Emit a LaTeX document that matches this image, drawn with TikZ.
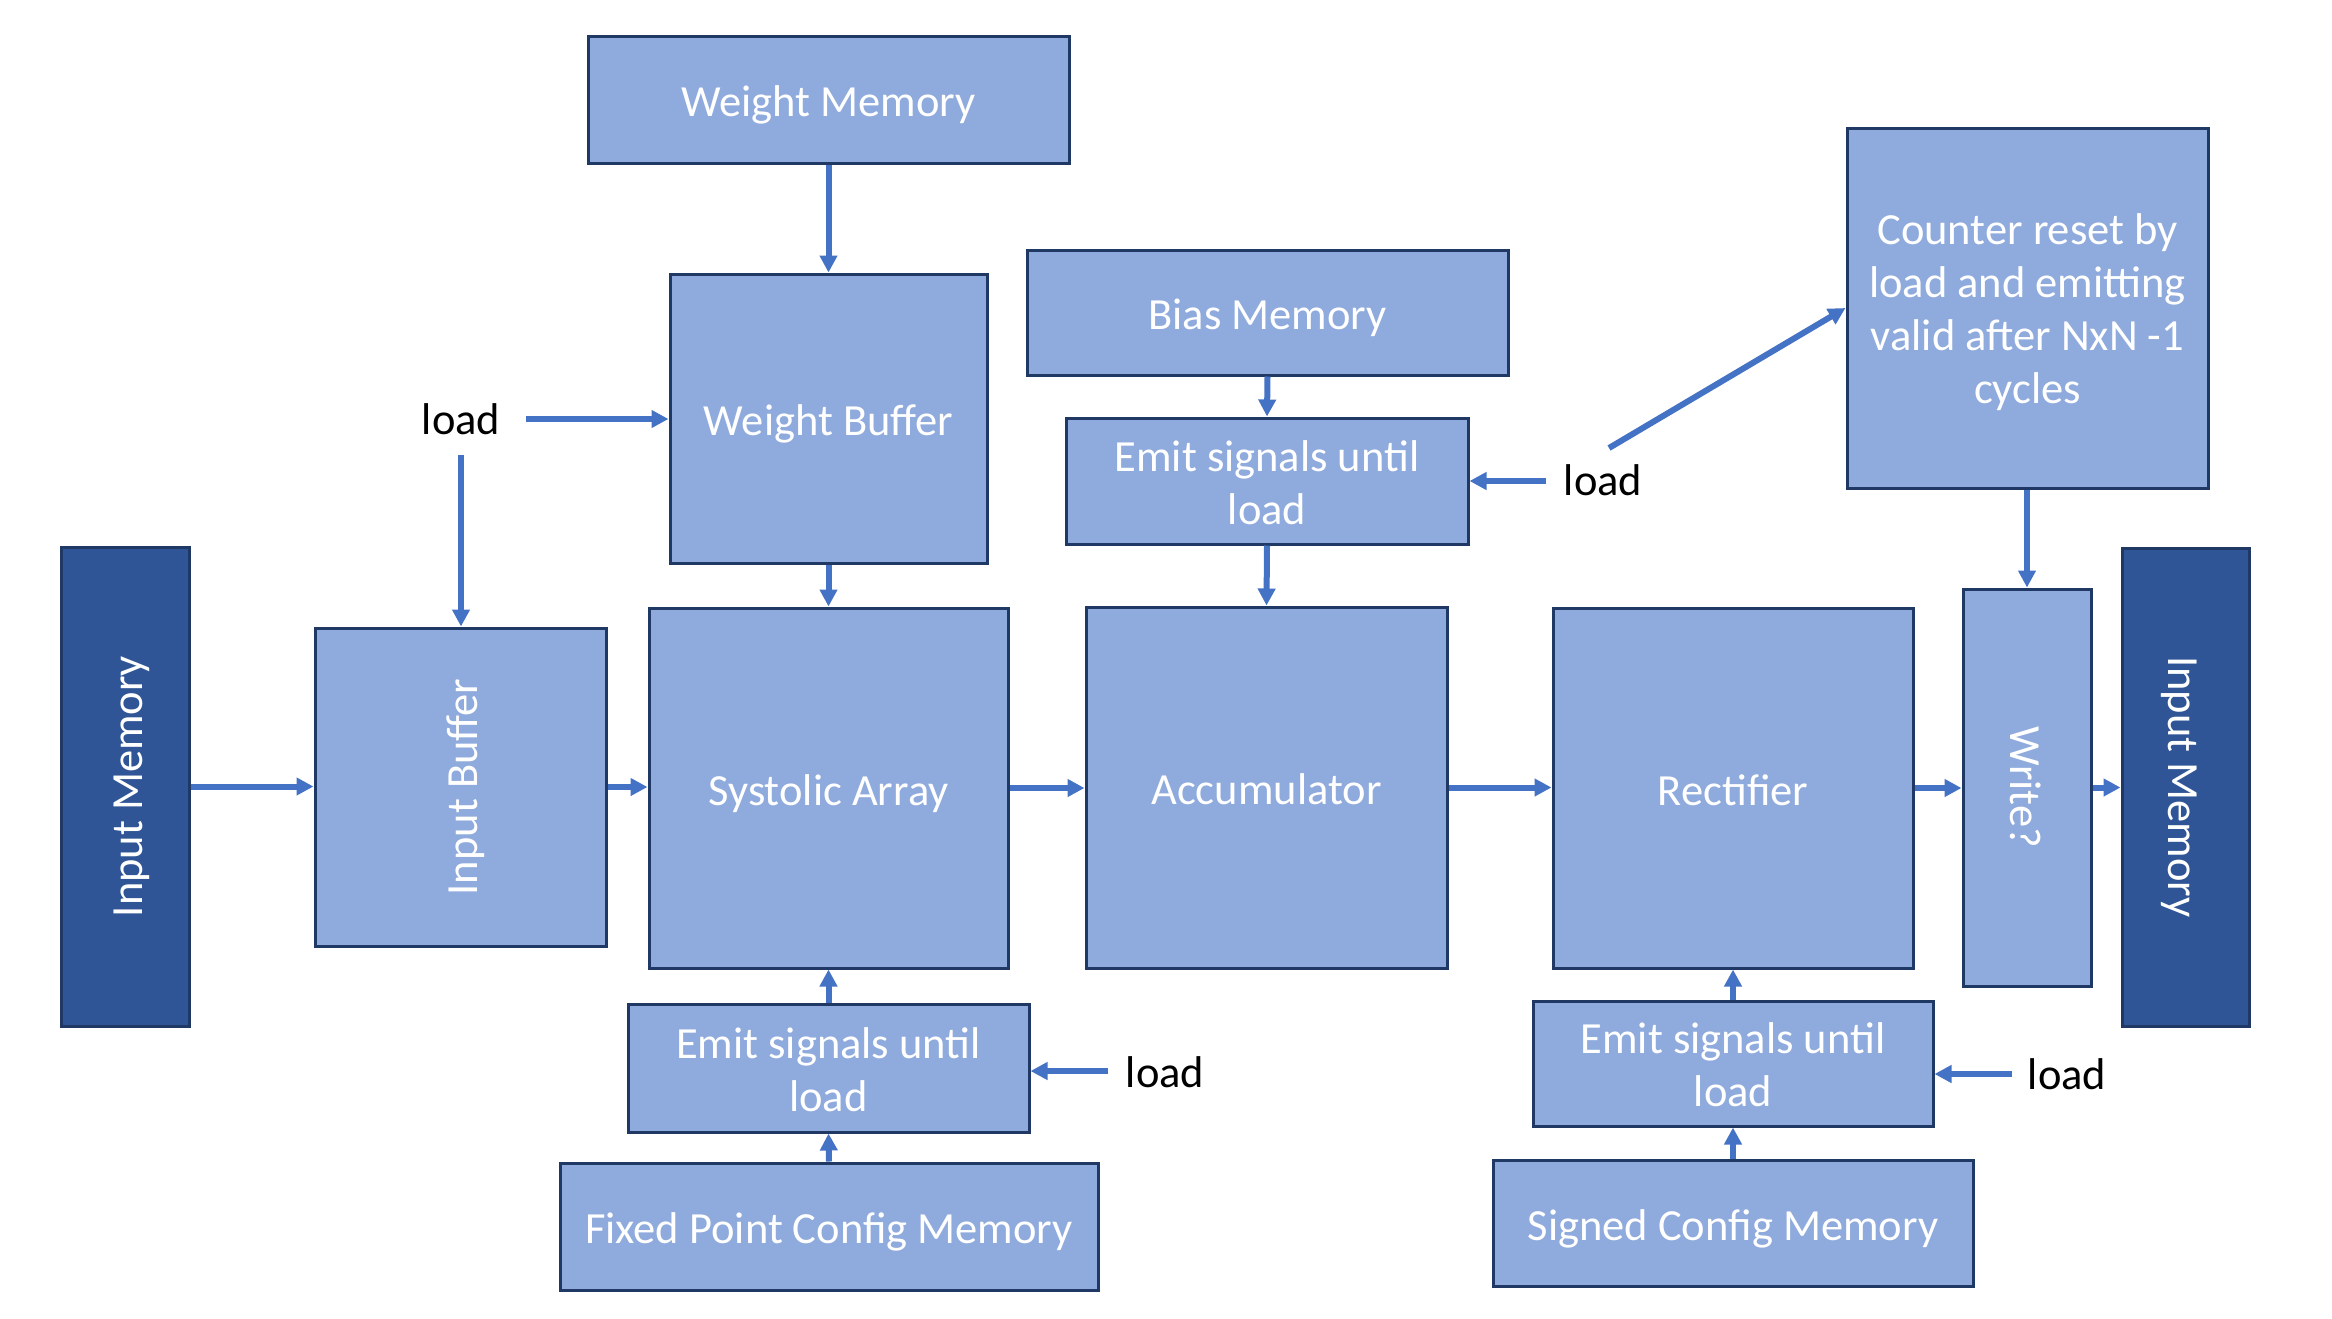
\documentclass[tikz,border=0pt]{standalone}
\usepackage{fontspec}
\setmainfont{Carlito}
\usetikzlibrary{arrows.meta}
\definecolor{lfill}{HTML}{8FAADC}
\definecolor{dfill}{HTML}{2F5597}
\definecolor{bdr}{HTML}{1F3864}
\definecolor{arrc}{HTML}{4472C4}
\begin{document}
\begin{tikzpicture}[x=1pt,y=-1pt,
  box/.style={draw=bdr, line width=3pt, fill=lfill, text=white, inner sep=0pt,
    align=center, font=\fontsize{44.5}{53}\selectfont},
  one/.style={text height=42pt, text depth=8pt},
  dbox/.style={box, fill=dfill},
  rtxt/.style={text=white, font=\fontsize{44.5}{53}\selectfont, inner sep=0pt, one},
  lbl/.style={text=black, inner sep=0pt, font=\fontsize{44.5}{53}\selectfont},
  arr/.style={draw=arrc, line width=6pt, -{Triangle[length=17pt,width=17pt]}}]
\useasboundingbox (0,0) rectangle (2332,1318);
% boxes
\node[box, one, minimum width=481pt, minimum height=127pt] (WM) at (828.5,99.5) {Weight Memory};
\node[box, one, minimum width=317pt, minimum height=289pt] (WB) at (828.5,418.5) {Weight Buffer};
\node[box, one, minimum width=359pt, minimum height=360pt] (Sys) at (828.5,788) {Systolic Array};
\node[box, minimum width=291pt, minimum height=318pt] (IB) at (460.5,787) {};
\node[rtxt, rotate=90] (IBt) at (IB.center) {Input Buffer};
\node[dbox, minimum width=128pt, minimum height=479pt] (IML) at (125,786.5) {};
\node[rtxt, rotate=90] (IMLt) at (IML.center) {Input Memory};
\node[box, one, minimum width=481pt, minimum height=125pt] (Bias) at (1267.5,312.5) {Bias Memory};
\node[box, minimum width=402pt, minimum height=126pt] (ET) at (1267,481) {\rule{0pt}{34pt}Emit signals until\\load};
\node[box, one, minimum width=361pt, minimum height=361pt] (Acc) at (1266.5,787.5) {Accumulator};
\node[box, one, minimum width=360pt, minimum height=360pt] (Rect) at (1733,788) {Rectifier};
\node[box, minimum width=128pt, minimum height=397pt] (Wr) at (2027,787.5) {};
\node[rtxt, rotate=-90] (Wrt) at (Wr.center) {Write?};
\node[dbox, minimum width=127pt, minimum height=478pt] (IMR) at (2185.5,787) {};
\node[rtxt, rotate=-90] (IMRt) at (IMR.center) {Input Memory};
\node[box, minimum width=361pt, minimum height=360pt] (Cnt) at (2027.5,308) {\rule{0pt}{40pt}Counter reset by\\load and emitting\\valid after NxN -1\\cycles};
\node[box, minimum width=401pt, minimum height=128pt] (EBL) at (828.5,1068) {\rule{0pt}{34pt}Emit signals until\\load};
\node[box, one, minimum width=538pt, minimum height=127pt] (FPC) at (829,1226.5) {Fixed Point Config Memory};
\node[box, minimum width=400pt, minimum height=125pt] (EBR) at (1733,1063.5) {\rule{0pt}{34pt}Emit signals until\\load};
\node[box, one, minimum width=480pt, minimum height=126pt] (SCM) at (1733,1223) {Signed Config Memory};
% load labels
\node[lbl] (LA) at (461,419) {load};
\node[lbl] (LB) at (1603,480) {load};
\node[lbl] (LC) at (1165,1072) {load};
\node[lbl] (LD) at (2067,1074) {load};
\coordinate (la1) at (526,419);
\coordinate (la2) at (461,455);
\coordinate (lb1) at (1546,481);
\coordinate (lb2) at (1609,448);
\coordinate (lc1) at (1108,1071);
\coordinate (ld1) at (2012,1074);
% main flow
\draw[arr] (IML.east) -- (IML.east -| IB.west);
\draw[arr] (IB.east) -- (IB.east -| Sys.west);
\draw[arr] (Sys.east) -- (Sys.east -| Acc.west);
\draw[arr] (Acc.east) -- (Acc.east -| Rect.west);
\draw[arr] (Rect.east) -- (Rect.east -| Wr.west);
\draw[arr] (Wr.east) -- (Wr.east -| IMR.west);
% verticals
\draw[arr] (WM.south) -- (WB.north);
\draw[arr] (WB.south) -- (Sys.north);
\draw[arr] (Bias.south) -- (ET.north);
\draw[arr] (ET.south) -- (Acc.north);
\draw[arr] (Cnt.south -| Wr.north) -- (Wr.north);
\draw[arr] (EBL.north) -- (Sys.south);
\draw[arr] (FPC.north) -- (EBL.south);
\draw[arr] (EBR.north) -- (Rect.south);
\draw[arr] (SCM.north) -- (EBR.south);
% load arrows
\draw[arr] (la1) -- (la1 -| WB.west);
\draw[arr] (la2) -- (la2 |- IB.north);
\draw[arr] (lb1) -- (lb1 -| ET.east);
\draw[arr] (lb2) -- (Cnt.west);
\draw[arr] (lc1) -- (lc1 -| EBL.east);
\draw[arr] (ld1) -- (ld1 -| EBR.east);
\end{tikzpicture}
\end{document}
